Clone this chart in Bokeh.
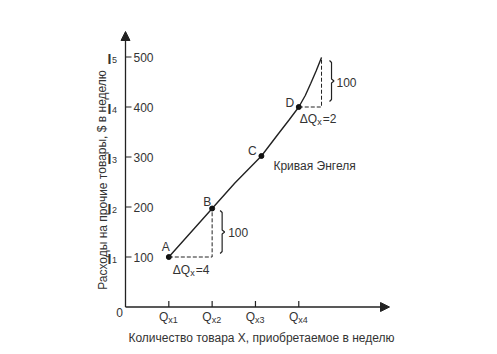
from bokeh.plotting import figure
from bokeh.models import Range1d, Arrow, NormalHead
from bokeh.embed import file_html
from bokeh.resources import INLINE
from bokeh.core.properties import value

# ---------------- data ----------------
income_ticks = [100, 200, 300, 400, 500]
income_tick_labels = ["100", "200", "300", "400", "500"]
income_subs = ["1", "2", "3", "4", "5"]
qty_ticks = [4, 8, 12, 16]
qty_subs = ["x1", "x2", "x3", "x4"]

curve_q = [4, 8, 10.1, 12.55, 14.1, 15.1, 16.0, 16.6, 17.1, 17.6, 18.1]
curve_i = [100, 197, 248, 302, 346, 374, 400, 423, 447, 472, 499]

point_names = ["A", "B", "C", "D"]
point_q = [4, 8, 12.55, 16.0]
point_i = [100, 197, 302, 400]

top_q, top_i = 18.1, 499  # end of the curve
x_title = "Количество товара X, приобретаемое в неделю"
y_title = "Расходы на прочие товары, $ в неделю"
curve_name = "Кривая Энгеля"
dq_left = ["ΔQ", "x", "=4"]
dq_right = ["ΔQ", "x", "=2"]
step_label = "100"

# ---------------- layout ----------------
W, H = 497, 354
SX = 10.83   # px per quantity unit
SY = 0.5     # px per income unit
X0, Y0 = 125, 306.5  # pixel position of origin

def dq(px):
    return px / SX

def di(px):
    return px / SY

FONT = value("Liberation Sans")
TXT = "#333333"
LN = "#222222"

p = figure(width=W, height=H, output_backend="svg", toolbar_location=None,
           x_range=Range1d(-X0 / SX, (W - X0) / SX),
           y_range=Range1d(-(H - Y0) / SY, Y0 / SY),
           x_axis_location=None, y_axis_location=None,
           min_border=0, tools="")
p.grid.visible = False
p.outline_line_color = None
p.background_fill_color = "white"
p.border_fill_color = "white"

# axes with arrows
p.add_layout(Arrow(end=NormalHead(size=9, fill_color=LN, line_color=LN),
                   x_start=0, y_start=0, x_end=0, y_end=di(Y0 - 31),
                   line_color=LN, line_width=1.3))
p.add_layout(Arrow(end=NormalHead(size=9, fill_color=LN, line_color=LN),
                   x_start=0, y_start=0, x_end=dq(389 - X0), y_end=0,
                   line_color=LN, line_width=1.3))

# y ticks
p.segment(x0=[0] * len(income_ticks), x1=[dq(6)] * len(income_ticks),
          y0=income_ticks, y1=income_ticks, line_color=LN, line_width=1.2)
p.text(x=[dq(8)] * len(income_ticks), y=income_ticks, text=income_tick_labels,
       text_font=FONT, text_font_size="12px", text_color=TXT,
       text_align="left", text_baseline="middle")
p.text(x=[-dq(14)] * len(income_ticks), y=[v - di(1.5) for v in income_ticks],
       text=["I"] * len(income_ticks),
       text_font=FONT, text_font_size="14px", text_font_style="bold", text_color=TXT,
       text_align="right", text_baseline="middle")
p.text(x=[-dq(13.5)] * len(income_ticks), y=[v - di(3) for v in income_ticks],
       text=income_subs, text_font=FONT, text_font_size="9px", text_color=TXT,
       text_align="left", text_baseline="middle")

# x ticks
p.segment(x0=qty_ticks, x1=qty_ticks, y0=[0] * len(qty_ticks), y1=[di(6)] * len(qty_ticks),
          line_color=LN, line_width=1.2)
p.text(x=[q - dq(0.5) for q in qty_ticks], y=[-di(9.5)] * len(qty_ticks),
       text=["Q"] * len(qty_ticks), text_font=FONT, text_font_size="12px",
       text_color=TXT, text_align="right", text_baseline="middle")
p.text(x=[q - dq(0.5) for q in qty_ticks], y=[-di(13)] * len(qty_ticks),
       text=qty_subs, text_font=FONT, text_font_size="9px",
       text_color=TXT, text_align="left", text_baseline="middle")
p.text(x=[-dq(6)], y=[-di(5.5)], text=["0"], text_font=FONT, text_font_size="12px",
       text_color=TXT, text_align="center", text_baseline="middle")

# axis titles
p.text(x=[dq(261 - X0)], y=[-di(30.5)], text=[x_title], text_font=FONT,
       text_font_size="12px", text_color=TXT, text_align="center", text_baseline="middle")
p.text(x=[-dq(23)], y=[di(127)], text=[y_title], text_font=FONT, angle=1.5708,
       text_font_size="12px", text_color=TXT, text_align="center", text_baseline="middle")

# Engel curve
p.line(curve_q, curve_i, line_color=LN, line_width=1.4)
p.scatter(point_q, point_i, size=5, color="#111111")

# point labels
lab_dx = [-3, -5, -9, -9]
lab_dy = [10.5, 7, 5.5, 4]
p.text(x=[q + dq(o) for q, o in zip(point_q, lab_dx)],
       y=[v + di(o) for v, o in zip(point_i, lab_dy)], text=point_names,
       text_font=FONT, text_font_size="12px", text_color=TXT,
       text_align="center", text_baseline="middle")
p.text(x=[point_q[2] + dq(12)], y=[point_i[2] - di(10)], text=[curve_name],
       text_font=FONT, text_font_size="12px", text_color=TXT,
       text_align="left", text_baseline="middle")

# dashed step triangles
qa, ia = point_q[0], point_i[0]
qb, ib = point_q[1], point_i[1]
qd, idd = point_q[3], point_i[3]
p.line([qa, qb, qb], [ia, ia, ib], line_color=LN, line_width=1, line_dash="4 2")
p.line([qd, top_q, top_q], [idd, idd, top_i], line_color=LN, line_width=1, line_dash="4 2")

# brackets
def bracket(xq, y_top, y_bot):
    mid = (y_top + y_bot) / 2
    xs = [xq - dq(2), xq, xq, xq + dq(2.5), xq, xq, xq - dq(2)]
    ys = [y_top, y_top - di(2), mid + di(2), mid, mid - di(2), y_bot + di(2), y_bot]
    p.line(xs, ys, line_color=LN, line_width=1.2)

bracket(qb + dq(10), ib - di(2), ia + di(3.5))
bracket(top_q + dq(10), top_i - di(3), idd + di(5.5))
p.text(x=[qb + dq(16), top_q + dq(15)], y=[(ia + ib) / 2, (idd + top_i) / 2],
       text=[step_label, step_label], text_font=FONT, text_font_size="12px",
       text_color=TXT, text_align="left", text_baseline="middle")

# ΔQx labels
def dq_label(xq, yi, parts):
    p.text(x=[xq], y=[yi], text=[parts[0]], text_font=FONT, text_font_size="12px",
           text_color=TXT, text_align="left", text_baseline="middle")
    p.text(x=[xq + dq(17.5)], y=[yi - di(3)], text=[parts[1]], text_font=FONT,
           text_font_size="9px", text_color=TXT, text_align="left", text_baseline="middle")
    p.text(x=[xq + dq(23)], y=[yi], text=[parts[2]], text_font=FONT, text_font_size="12px",
           text_color=TXT, text_align="left", text_baseline="middle")

dq_label(qa + dq(4), ia - di(12.5), dq_left)
dq_label(qd + dq(1), idd - di(12), dq_right)

open("out.html", "w").write(file_html(p, INLINE))
